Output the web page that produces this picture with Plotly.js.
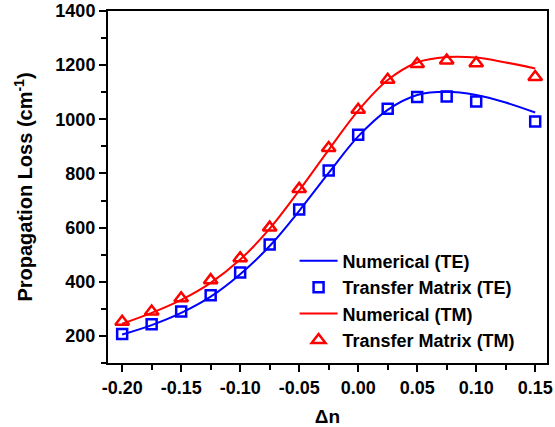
<!DOCTYPE html>
<html><head><meta charset="utf-8">
<script src="https://cdn.plot.ly/plotly-3.0.1.min.js"></script>
<style>body{margin:0;padding:0;background:#fff}#chart{width:555px;height:427px}</style>
</head><body><div id="chart"></div>
<script>
// Transfer matrix data points
const xPts = [-0.2, -0.175, -0.15, -0.125, -0.1, -0.075, -0.05, -0.025, 0, 0.025, 0.05, 0.075, 0.1, 0.15];
const teTM = [207, 243, 290, 350, 434, 538, 667, 811, 943, 1039, 1082, 1084, 1066, 992];
const tmTM = [252, 290, 339, 406, 487, 600, 743, 894, 1035, 1146, 1204, 1217, 1207, 1156];
// Numerical curves
const xNum = [-0.2, -0.175, -0.15, -0.125, -0.1, -0.075, -0.05, -0.025, 0, 0.025, 0.05, 0.075, 0.1, 0.125, 0.15];
const teNum = [205, 240, 285, 345, 428, 532, 662, 802, 937, 1035, 1090, 1102, 1090, 1062, 1025];
const tmNum = [245, 285, 333, 396, 482, 596, 737, 887, 1032, 1145, 1210, 1230, 1228, 1210, 1188];
// Tick labels
const xTickVals = [-0.2, -0.15, -0.1, -0.05, 0, 0.05, 0.1, 0.15];
const xTickText = ['-0.20', '-0.15', '-0.10', '-0.05', '0.00', '0.05', '0.10', '0.15'];
const yTickVals = [200, 400, 600, 800, 1000, 1200, 1400];
const yTickText = ['200', '400', '600', '800', '1000', '1200', '1400'];

const font = {family: '"Liberation Sans", Arial, sans-serif', color: '#000'};
const bold = s => '<b>' + s + '</b>';
const traces = [
  {x: xNum, y: teNum, mode: 'lines', name: bold('Numerical (TE)'), line: {color: '#0000ff', width: 2, shape: 'spline'}},
  {x: xPts, y: teTM, mode: 'markers', name: bold('Transfer Matrix (TE)'), marker: {symbol: 'square-open', size: 10, color: '#0000ff', line: {width: 2.5, color: '#0000ff'}}},
  {x: xNum, y: tmNum, mode: 'lines', name: bold('Numerical (TM)'), line: {color: '#ff0000', width: 2, shape: 'spline'}},
  {x: xPts, y: tmTM, mode: 'markers', name: bold('Transfer Matrix (TM)'), marker: {symbol: 'triangle-up-open', size: 12, color: '#ff0000', line: {width: 2.5, color: '#ff0000'}}}
];
const axisCommon = {
  showline: true, linewidth: 2, linecolor: '#000', mirror: true,
  ticks: 'outside', ticklen: 7, tickwidth: 2, tickcolor: '#000',
  showgrid: false, zeroline: false,
  tickfont: Object.assign({size: 18}, font)
};
const layout = {
  width: 555, height: 427,
  margin: {l: 108, r: 8, t: 11, b: 64},
  paper_bgcolor: '#fff', plot_bgcolor: '#fff',
  font: font,
  showlegend: true,
  legend: {x: 0.425, y: 0.342, xanchor: 'left', yanchor: 'top', bgcolor: 'rgba(0,0,0,0)', borderwidth: 0,
           itemwidth: 38, font: Object.assign({size: 18}, font)},
  xaxis: Object.assign({}, axisCommon, {
    range: [-0.212, 0.160], tickvals: xTickVals, ticktext: xTickText.map(bold),
    minor: {dtick: 0.025, tick0: 0, ticks: 'outside', ticklen: 5, tickwidth: 2, tickcolor: '#000'},
    title: {text: bold('Δn'), font: Object.assign({size: 19}, font), standoff: 23}
  }),
  yaxis: Object.assign({}, axisCommon, {
    range: [100, 1400], tickvals: yTickVals, ticktext: yTickText.map(bold),
    minor: {dtick: 100, tick0: 0, ticks: 'outside', ticklen: 5, tickwidth: 2, tickcolor: '#000'},
    title: {text: bold('Propagation Loss (cm<sup>-1</sup>)'), font: Object.assign({size: 20}, font), standoff: 17}
  })
};
Plotly.newPlot('chart', traces, layout, {displayModeBar: false, staticPlot: true});
</script></body></html>
